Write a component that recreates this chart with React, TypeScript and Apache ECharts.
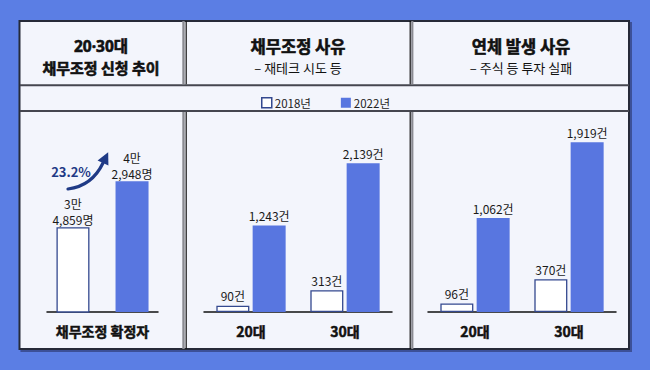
import React, { useEffect, useRef } from "react";
import * as echarts from "echarts";

const leftCategories = ["채무조정 확정자"];
const left2018 = [34859];
const left2022 = [42948];

const ageCategories = ["20대", "30대"];
const reason2018 = [90, 313];
const reason2022 = [1243, 2139];
const overdue2018 = [96, 370];
const overdue2022 = [1062, 1919];

const legendLabels = ["2018년", "2022년"];

const headerLeft = ["20·30대", "채무조정 신청 추이"];
const headerMid = ["채무조정 사유", "– 재테크 시도 등"];
const headerRight = ["연체 발생 사유", "– 주식 등 투자 실패"];

const FONT = "'Noto Sans CJK KR', 'Noto Sans', sans-serif";
const LATIN_FIRST = "'Noto Sans', 'Noto Sans CJK KR', sans-serif";
const BLUE = "#5876e0";
const NAVY = "#34498f";
const BG = "#5b7ee4";
const PANEL = "#f3f5fc";

const fmtCount = (v: number) => v.toLocaleString("en-US") + "건";
const fmtPeople = (v: number) =>
  `${Math.floor(v / 10000)}만\n${(v % 10000).toLocaleString("en-US")}명`;

export default function App() {
  const ref = useRef<HTMLDivElement>(null);

  useEffect(() => {
    if (!ref.current) return;
    const chart = echarts.init(ref.current, undefined, { renderer: "svg" });

    const growth = ((left2022[0] - left2018[0]) / left2018[0]) * 100;

    // arrow geometry (decoration)
    const ax0 = 68, ay0 = 189, acx = 92, acy = 186, ax1 = 103, ay1 = 163;
    let dx = ax1 - acx, dy = ay1 - acy;
    const dl = Math.sqrt(dx * dx + dy * dy);
    dx /= dl; dy /= dl;
    const tip = [ax1 + dx * 12, ay1 + dy * 12];
    const px = -dy, py = dx;
    const b1 = [ax1 + px * 6, ay1 + py * 6];
    const b2 = [ax1 - px * 6, ay1 - py * 6];

    const baseGrid = { bottom: 58, containLabel: false, outerBoundsMode: "none" } as any;

    const xAxisBase = {
      type: "category",
      axisTick: { show: false },
      axisLine: { show: true, lineStyle: { color: "#111", width: 1.5 } },
      axisLabel: {
        color: "#111", fontSize: 14, fontWeight: "bold", fontFamily: FONT, margin: 12,
        textBorderColor: "#111", textBorderWidth: 0.5,
      },
    };
    const yAxisBase = { type: "value", show: false, splitLine: { show: false } };

    const s2018 = { color: "#ffffff", borderColor: NAVY, borderWidth: 1.3 };
    const s2022 = { color: BLUE };
    const labelBase = {
      show: true,
      position: "top",
      distance: 4,
      color: "#1a1a1a",
      fontSize: 12,
      fontFamily: FONT,
    };

    const vline = (x: number, w: number, color: string, y0: number, y1: number) => ({
      type: "rect",
      shape: { x, y: y0, width: w, height: y1 - y0 },
      style: { fill: color },
      silent: true,
      z: -5,
    });

    const text = (
      t: string, x: number, y: number, size: number, weight: any,
      color = "#111", heavy = false, family = FONT
    ) => ({
      type: "text",
      x,
      y,
      style: {
        text: t,
        fontSize: size,
        fontWeight: weight,
        fontFamily: family,
        fill: color,
        align: "center",
        verticalAlign: "middle",
        ...(heavy ? { stroke: color, lineWidth: 0.6 } : {}),
      },
      z: 10,
    });

    const peopleLabel = { ...labelBase, distance: 0, lineHeight: 16, formatter: (p: any) => fmtPeople(p.value) };
    const countLabel = { ...labelBase, formatter: (p: any) => fmtCount(p.value) };

    const option: any = {
      animation: false,
      backgroundColor: BG,
      textStyle: { fontFamily: FONT },
      legend: {
        data: [
          { name: legendLabels[0], itemStyle: { color: "#ffffff", borderColor: NAVY, borderWidth: 1.5 } },
          { name: legendLabels[1], itemStyle: { color: BLUE, borderColor: BLUE, borderWidth: 0 } },
        ],
        left: 256,
        top: 92,
        icon: "rect",
        itemWidth: 10,
        itemHeight: 10,
        itemGap: 30,
        textStyle: { fontSize: 11.5, color: "#222", fontFamily: FONT, padding: [0, 0, 0, -2] },
        selectedMode: false,
      },
      grid: [
        { ...baseGrid, left: 47, width: 111, top: 141 },
        { ...baseGrid, left: 204, width: 188, top: 138 },
        { ...baseGrid, left: 428, width: 188, top: 135 },
      ],
      xAxis: [
        { ...xAxisBase, gridIndex: 0, data: leftCategories },
        { ...xAxisBase, gridIndex: 1, data: ageCategories },
        { ...xAxisBase, gridIndex: 2, data: ageCategories },
      ],
      yAxis: [
        { ...yAxisBase, gridIndex: 0, min: 20000, max: 50000 },
        { ...yAxisBase, gridIndex: 1, min: 0, max: 2500 },
        { ...yAxisBase, gridIndex: 2, min: 0, max: 2000 },
      ],
      series: [
        {
          type: "bar", name: legendLabels[0], xAxisIndex: 0, yAxisIndex: 0, data: left2018,
          barWidth: 33, barGap: "79%", itemStyle: s2018, label: peopleLabel,
        },
        {
          type: "bar", name: legendLabels[1], xAxisIndex: 0, yAxisIndex: 0, data: left2022,
          barWidth: 33, barGap: "79%", itemStyle: s2022, label: peopleLabel,
        },
        {
          type: "bar", name: legendLabels[0], xAxisIndex: 1, yAxisIndex: 1, data: reason2018,
          barWidth: 33, barGap: "10%", itemStyle: s2018, label: countLabel,
        },
        {
          type: "bar", name: legendLabels[1], xAxisIndex: 1, yAxisIndex: 1, data: reason2022,
          barWidth: 33, barGap: "10%", itemStyle: s2022, label: countLabel,
        },
        {
          type: "bar", name: legendLabels[0], xAxisIndex: 2, yAxisIndex: 2, data: overdue2018,
          barWidth: 33, barGap: "10%", itemStyle: s2018, label: countLabel,
        },
        {
          type: "bar", name: legendLabels[1], xAxisIndex: 2, yAxisIndex: 2, data: overdue2022,
          barWidth: 33, barGap: "10%", itemStyle: s2022, label: countLabel,
        },
      ],
      graphic: [
        {
          type: "rect",
          shape: { x: 19.5, y: 21, width: 609.5, height: 328 },
          style: {
            fill: PANEL, stroke: "#262a38", lineWidth: 2,
            shadowColor: "rgba(20,25,60,0.45)", shadowOffsetX: 2, shadowOffsetY: 2, shadowBlur: 0,
          },
          z: -10,
          silent: true,
        },
        { type: "rect", shape: { x: 20, y: 84.3, width: 609, height: 2 }, style: { fill: "#45464f" }, z: -5, silent: true },
        { type: "rect", shape: { x: 20, y: 110, width: 609, height: 2 }, style: { fill: "#45464f" }, z: -5, silent: true },
        vline(182.3, 2.4, "#8a8b92", 21, 84.3),
        vline(185.6, 1.2, "#111", 21, 84.3),
        vline(182.3, 2.4, "#8a8b92", 112, 349),
        vline(185.6, 1.2, "#111", 112, 349),
        vline(409.6, 1.2, "#111", 21, 84.3),
        vline(411.2, 2.2, "#8a8b92", 21, 84.3),
        vline(409.6, 1.2, "#111", 112, 349),
        vline(411.2, 2.2, "#8a8b92", 112, 349),
        text(headerLeft[0], 101, 46, 15.5, "bold", "#111", true, LATIN_FIRST),
        text(headerLeft[1], 101, 67, 15, "bold", "#111", true),
        text(headerMid[0], 298, 46, 16.5, "bold", "#111", true),
        text(headerMid[1], 298, 67, 13, "normal"),
        text(headerRight[0], 521, 46, 16.5, "bold", "#111", true),
        text(headerRight[1], 521, 67, 13, "normal"),
        {
          type: "bezierCurve",
          shape: { x1: ax0, y1: ay0, x2: ax1, y2: ay1, cpx1: acx, cpy1: acy },
          style: { stroke: "#1f3a86", lineWidth: 3.2, fill: "none", lineCap: "round" },
          z: 10,
        },
        {
          type: "polygon",
          shape: { points: [tip, b1, b2] },
          style: { fill: "#1f3a86" },
          z: 10,
        },
        text(growth.toFixed(1) + "%", 71, 171.5, 13, "bold", "#1f3a86"),
      ],
    };

    chart.setOption(option);
    return () => chart.dispose();
  }, []);

  return (
    <div
      ref={ref}
      style={{ position: "fixed", left: 0, top: 0, width: 650, height: 370 }}
    />
  );
}
